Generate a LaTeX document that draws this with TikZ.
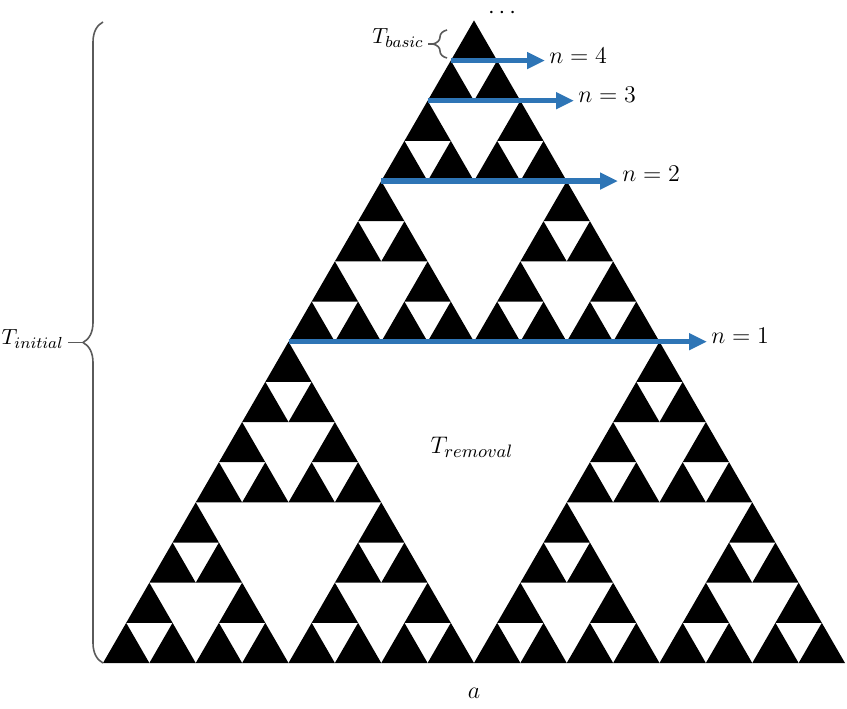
\documentclass[tikz,border=0pt]{standalone}
\usepackage{amsmath}
\usepackage{tikz}
\usetikzlibrary{arrows.meta,calc,decorations.pathreplacing}
\definecolor{arrowblue}{HTML}{2E75B6}
\definecolor{bracegray}{HTML}{5A5A5A}

% Sierpinski: depth, x, y (lower left), side
\newcommand{\sierp}[4]{%
  \ifnum#1=0\relax
    \fill (#2,#3) -- ++(#4,0) -- ++(120:#4) -- cycle;
  \else
    \begingroup
    \pgfmathsetmacro\sx{#2}%
    \pgfmathsetmacro\sy{#3}%
    \pgfmathsetmacro\ss{#4/2}%
    \pgfmathtruncatemacro\sd{#1-1}%
    \pgfmathsetmacro\sxr{\sx+\ss}%
    \pgfmathsetmacro\sxt{\sx+\ss/2}%
    \pgfmathsetmacro\syt{\sy+\ss*0.8660254}%
    \sierp{\sd}{\sx}{\sy}{\ss}%
    \sierp{\sd}{\sxr}{\sy}{\ss}%
    \sierp{\sd}{\sxt}{\syt}{\ss}%
    \endgroup
  \fi}

\begin{document}
\begin{tikzpicture}[x=0.5pt,y=0.5pt,
  lbl/.style={font=\fontsize{13}{15}\selectfont, inner sep=2pt},
  small/.style={font=\fontsize{11}{13}\selectfont, inner sep=2pt},
  flow/.style={arrowblue, line width=2.6pt, -{Triangle[length=9pt,width=8pt]}},
  curly/.style={bracegray, line width=0.8pt, decorate,
    decoration={brace,amplitude=#1}}]
  \useasboundingbox (0,0) rectangle (847,708);
  % Dreieck
  \sierp{4}{103}{45}{742}
  \node[lbl, inner sep=0pt, anchor=base] (dots) at (502,689) {$\smash{\cdots}$};
  \node[lbl] (base) at (474,15) {$a$};
  \node[lbl] (trem) at (472,261) {$T_{removal}$};
  % Stufen
  \foreach \k/\f/\xl/\yl in {1/0.5/707/372, 2/0.75/618/534,
                            3/0.875/574/613, 4/0.9375/545/652} {
    \coordinate (s\k) at (103+371*\f, 45+642.6*\f);
    \node[lbl, anchor=west] (n\k) at (\xl,\yl) {$n = \k$};
    \draw[flow] (s\k) -- (s\k -| n\k.west);
  }
  % Klammern
  \draw[curly=10pt] (103,45) -- (103,686);
  \coordinate (tipi) at (83,365.5);
  \node[small, anchor=east] (tinit) at (68,369) {$T_{initial}$};
  \draw[bracegray, line width=0.8pt] (tipi) -- (tinit.east |- tipi);
  \draw[curly=7pt] (447,650) -- (447,678);
  \coordinate (tipb) at (433,664);
  \node[small, anchor=east] (tbas) at (428,670) {$T_{basic}$};
  \draw[bracegray, line width=0.8pt] (tipb) -- (tbas.east |- tipb);
\end{tikzpicture}
\end{document}
